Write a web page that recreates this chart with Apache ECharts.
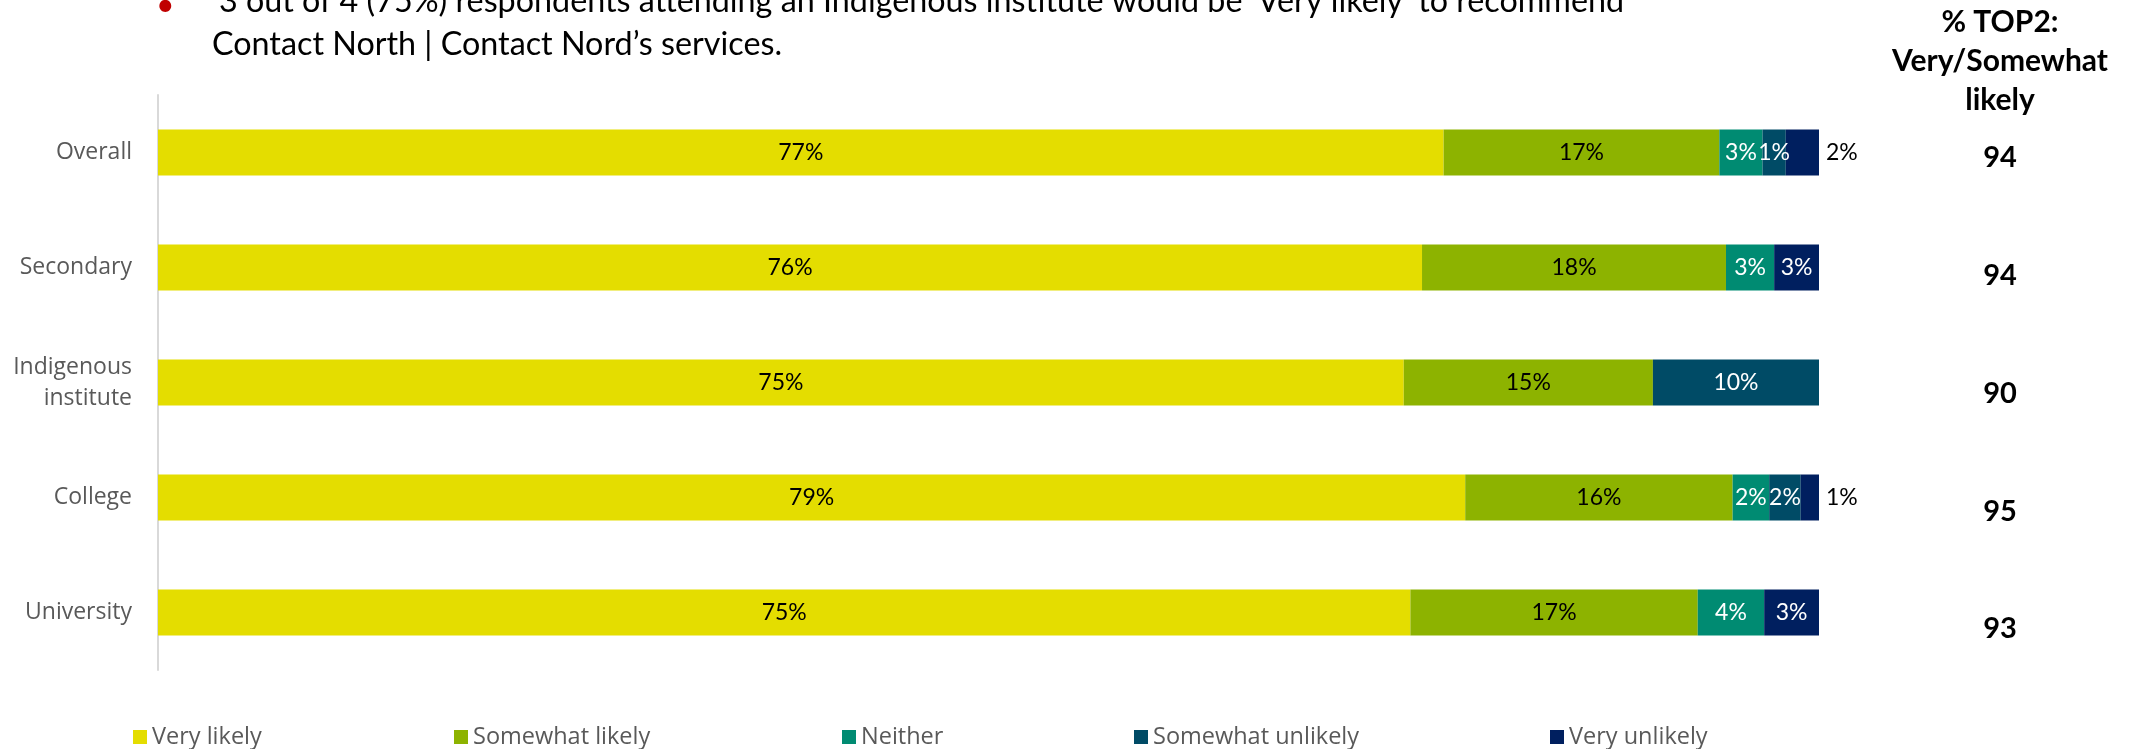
<!DOCTYPE html>
<html>
<head>
<meta charset="utf-8">
<script src="https://cdn.jsdelivr.net/npm/echarts@6/dist/echarts.min.js"></script>
<style>
  html, body { margin: 0; padding: 0; background: #ffffff; }
  #chart { width: 2139px; height: 749px; }
</style>
</head>
<body>
<div id="chart"></div>
<script>
// ---- data ----
const categories = ['Overall', 'Secondary', 'Indigenous\ninstitute', 'College', 'University'];
const seriesNames = ['Very likely', 'Somewhat likely', 'Neither', 'Somewhat unlikely', 'Very unlikely'];
const veryLikely       = [77.4, 76.1, 75.0, 78.7, 75.4];
const somewhatLikely   = [16.6, 18.3, 15.0, 16.1, 17.3];
const neither          = [2.6, 2.9, 0, 2.2, 4.0];
const somewhatUnlikely = [1.4, 0, 10.0, 1.9, 0];
const veryUnlikely     = [2.0, 2.7, 0, 1.1, 3.3];
const top2             = [94, 94, 90, 95, 93];
const headline1 = '\u20183 out of 4 (75%) respondents attending an Indigenous institute would be \u2018Very likely\u2019 to recommend';
const headline2 = 'Contact North | Contact Nord\u2019s services.';
const top2Header = '% TOP2:\nVery/Somewhat\nlikely';

// ---- styles ----
const colors = ['#E4DD00', '#8DB300', '#008B72', '#004B66', '#001F5F'];
const labelColors = ['#000000', '#000000', '#ffffff', '#ffffff', '#ffffff'];
const legendLefts = [133, 454, 842, 1134, 1550];
const FONT = 'Lato, "Open Sans", sans-serif';
const LABEL_FONT = '"Open Sans", sans-serif';

const allValues = [veryLikely, somewhatLikely, neither, somewhatUnlikely, veryUnlikely];

const series = seriesNames.map((name, i) => ({
  name: name,
  type: 'bar',
  stack: 'total',
  barWidth: 46,
  xAxisIndex: 0,
  yAxisIndex: 0,
  itemStyle: { color: colors[i] },
  label: {
    show: true,
    position: 'inside',
    color: labelColors[i],
    fontFamily: FONT,
    fontSize: 23,
    formatter: p => (p.value > 0 ? Math.round(p.value) + '%' : '')
  },
  data: allValues[i].map(v => {
    if (i === 4 && v > 0 && v < 2.5) {
      return { value: v, label: { position: 'right', distance: 7, color: '#000000' } };
    }
    return v;
  })
}));

const legends = seriesNames.map((name, i) => ({
  data: [name],
  left: legendLefts[i],
  top: 725,
  padding: 0,
  icon: 'rect',
  itemWidth: 14,
  itemHeight: 14,
  itemGap: 0,
  textStyle: { fontFamily: LABEL_FONT, fontSize: 23.5, color: '#595959' },
  selectedMode: false
}));

const chart = echarts.init(document.getElementById('chart'), null, { renderer: 'canvas' });
chart.setOption({
  animation: false,
  backgroundColor: '#ffffff',
  grid: [
    { left: 158, right: 320, top: 95, bottom: 79, containLabel: false },
    { left: 1990, right: 139, top: 99, bottom: 61, containLabel: false }
  ],
  xAxis: [
    { type: 'value', min: 0, max: 100, show: false, gridIndex: 0 },
    { type: 'value', min: 0, max: 1, show: false, gridIndex: 1 }
  ],
  yAxis: [
    {
      type: 'category',
      gridIndex: 0,
      data: categories,
      inverse: true,
      axisLine: { show: true, lineStyle: { color: '#D9D9D9', width: 2 } },
      axisTick: { show: false },
      axisLabel: {
        margin: 26,
        color: '#595959',
        fontFamily: LABEL_FONT,
        fontSize: 23,
        lineHeight: 31,
        align: 'right'
      }
    },
    {
      type: 'category',
      gridIndex: 1,
      data: top2.map(String),
      inverse: true,
      position: 'right',
      axisLine: { show: false },
      axisTick: { show: false },
      axisLabel: {
        margin: 0,
        align: 'center',
        color: '#000000',
        fontFamily: FONT,
        fontWeight: 'bold',
        fontSize: 29
      }
    }
  ],
  legend: legends,
  series: series,
  graphic: [
    {
      type: 'text', left: 156, top: -10,
      style: { text: '\u2022', fill: '#C00000', font: '32px ' + FONT }
    },
    {
      type: 'text', x: 212, y: 2,
      style: { text: headline1, fill: '#000000', font: '32.3px ' + FONT, verticalAlign: 'middle', align: 'left' }
    },
    {
      type: 'text', x: 212, y: 45,
      style: { text: headline2, fill: '#000000', font: '32.3px ' + FONT, verticalAlign: 'middle', align: 'left' }
    },
    {
      type: 'text', x: 2000, y: 3,
      style: { text: top2Header, fill: '#000000', font: 'bold 30px ' + FONT, align: 'center', verticalAlign: 'top', lineHeight: 39 }
    }
  ]
});
</script>
</body>
</html>
